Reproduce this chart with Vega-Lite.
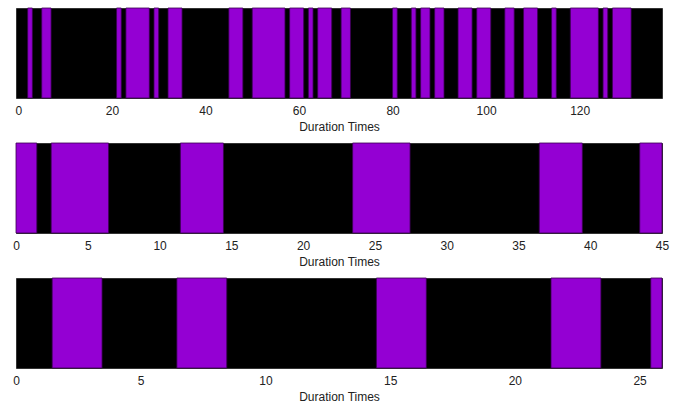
{
  "$schema": "https://vega.github.io/schema/vega-lite/v6.json",
  "padding": {"left": 12, "top": 7, "right": 15, "bottom": 0},
  "spacing": 9,
  "datasets": {
    "p1": [
      {"start": 2, "end": 3}, {"start": 5, "end": 7}, {"start": 21, "end": 22},
      {"start": 23, "end": 28}, {"start": 29, "end": 30}, {"start": 32, "end": 35},
      {"start": 45, "end": 48}, {"start": 50, "end": 57}, {"start": 58, "end": 61},
      {"start": 62, "end": 63}, {"start": 64, "end": 67}, {"start": 69, "end": 71},
      {"start": 80, "end": 81}, {"start": 84, "end": 85}, {"start": 86, "end": 88},
      {"start": 89, "end": 91}, {"start": 94, "end": 97}, {"start": 98, "end": 101},
      {"start": 104, "end": 106}, {"start": 108, "end": 111}, {"start": 114, "end": 115},
      {"start": 118, "end": 124}, {"start": 125, "end": 126}, {"start": 127, "end": 131}
    ],
    "p2": [
      {"start": 0, "end": 1.45}, {"start": 2.45, "end": 6.45}, {"start": 11.45, "end": 14.45},
      {"start": 23.45, "end": 27.45}, {"start": 36.45, "end": 39.45}, {"start": 43.45, "end": 45}
    ],
    "p3": [
      {"start": 1.45, "end": 3.45}, {"start": 6.45, "end": 8.45}, {"start": 14.45, "end": 16.45},
      {"start": 21.45, "end": 23.45}, {"start": 25.45, "end": 25.9}
    ]
  },
  "vconcat": [
    {
      "width": 646, "height": 90,
      "data": {"name": "p1"},
      "mark": {"type": "rect", "color": "#9400d3", "stroke": "#3a0050", "strokeWidth": 0.8},
      "encoding": {
        "x": {"field": "start", "type": "quantitative", "title": "Duration Times",
              "scale": {"domain": [-0.5, 137.6], "nice": false, "zero": false},
              "axis": {"values": [0, 20, 40, 60, 80, 100, 120]}},
        "x2": {"field": "end"}
      }
    },
    {
      "width": 646, "height": 90,
      "data": {"name": "p2"},
      "mark": {"type": "rect", "color": "#9400d3", "stroke": "#3a0050", "strokeWidth": 0.8},
      "encoding": {
        "x": {"field": "start", "type": "quantitative", "title": "Duration Times",
              "scale": {"domain": [0, 45], "nice": false, "zero": false},
              "axis": {"values": [0, 5, 10, 15, 20, 25, 30, 35, 40, 45]}},
        "x2": {"field": "end"}
      }
    },
    {
      "width": 646, "height": 90,
      "data": {"name": "p3"},
      "mark": {"type": "rect", "color": "#9400d3", "stroke": "#3a0050", "strokeWidth": 0.8},
      "encoding": {
        "x": {"field": "start", "type": "quantitative", "title": "Duration Times",
              "scale": {"domain": [0, 25.9], "nice": false, "zero": false},
              "axis": {"values": [0, 5, 10, 15, 20, 25]}},
        "x2": {"field": "end"}
      }
    }
  ],
  "config": {
    "background": "white",
    "view": {"fill": "black", "stroke": "#333333", "strokeWidth": 1},
    "axis": {
      "grid": false, "domain": false, "ticks": false,
      "labelFont": "Liberation Sans", "labelFontSize": 12, "labelColor": "#222222",
      "labelPadding": 7, "labelFlush": false,
      "titleFont": "Liberation Sans", "titleFontSize": 12, "titleFontWeight": "normal",
      "titleColor": "#222222", "titlePadding": 5
    }
  }
}
